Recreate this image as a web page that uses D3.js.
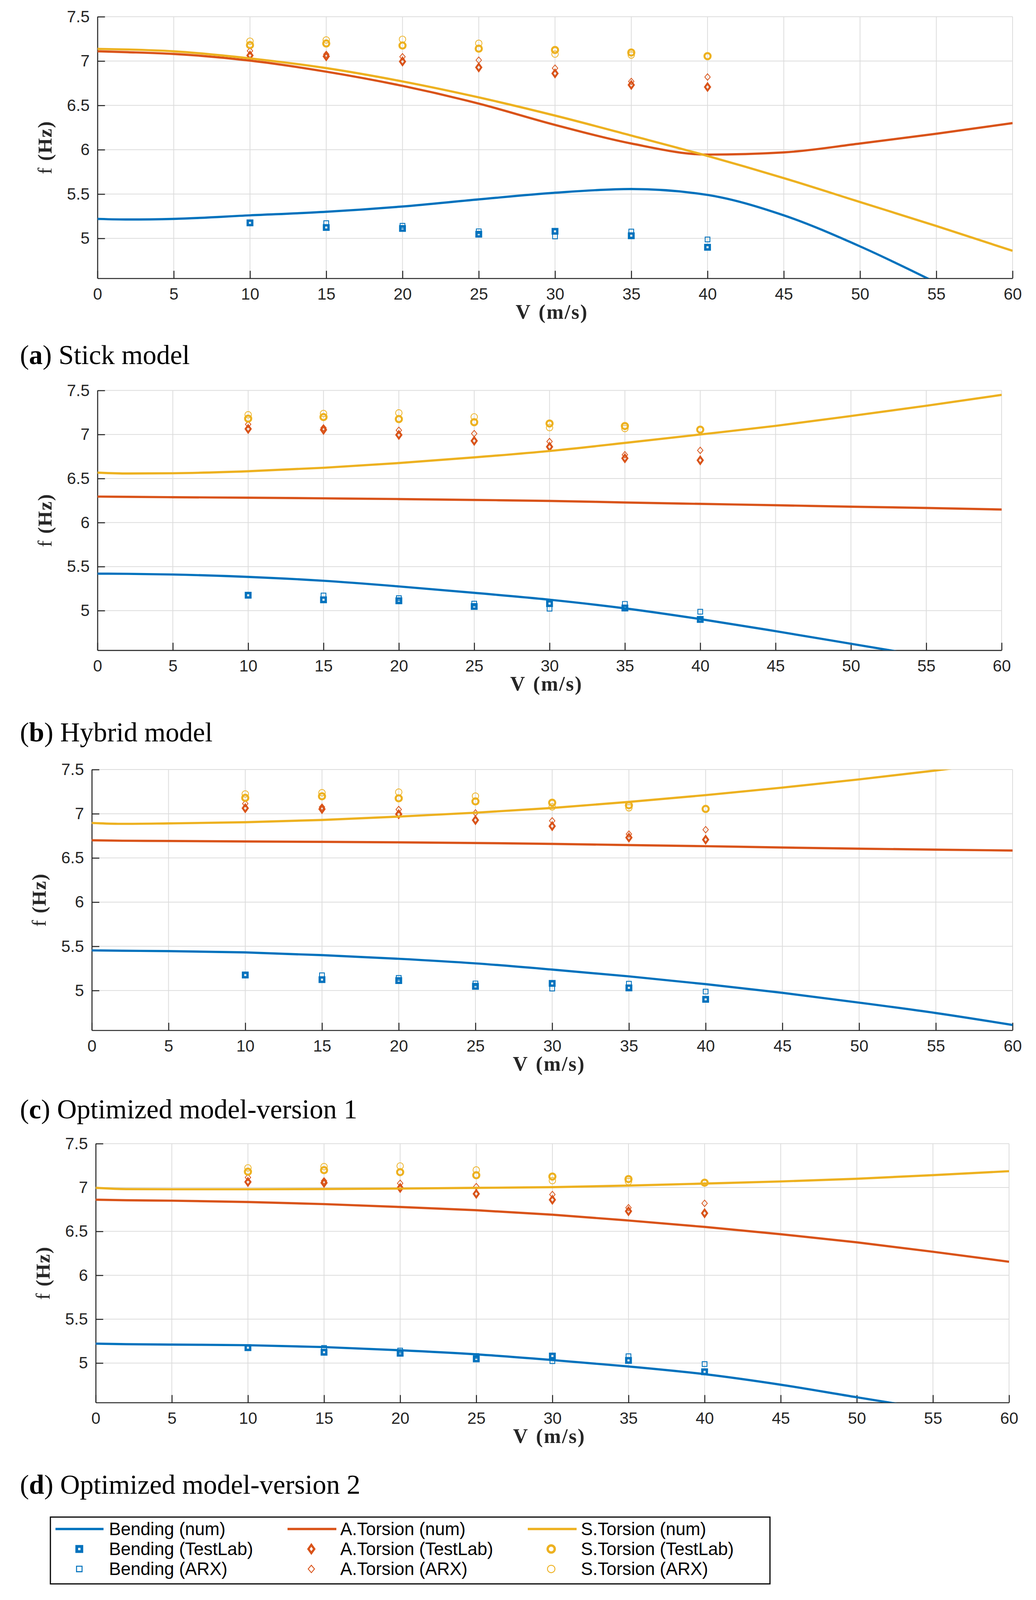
<!DOCTYPE html>
<html>
<head>
<meta charset="utf-8">
<script src="https://cdn.jsdelivr.net/npm/d3@7"></script>
<style>
html, body { margin: 0; padding: 0; background: #fff; overflow: hidden; }
svg { display: block; }
</style>
</head>
<body>
<script>
// speed grid used for the numerical curves (m/s)
var speedGrid = [0, 2, 5, 10, 15, 20, 25, 30, 35, 40, 45, 50, 55, 60];

// (a) stick model
var stickBending  = [5.22, 5.213, 5.22, 5.26, 5.30, 5.36, 5.44, 5.515, 5.557, 5.49, 5.26, 4.91, 4.50, null];
var stickATorsion = [7.11, 7.10, 7.08, 7.005, 6.88, 6.72, 6.52, 6.28, 6.07, 5.945, 5.97, 6.07, 6.18, 6.30];
var stickSTorsion = [7.137, 7.13, 7.11, 7.03, 6.92, 6.77, 6.59, 6.385, 6.16, 5.93, 5.68, 5.41, 5.14, 4.86];

// (b) hybrid model
var hybridBending  = [5.42, 5.418, 5.41, 5.383, 5.339, 5.275, 5.202, 5.124, 5.026, 4.904, 4.767, 4.624, 4.48, null];
var hybridATorsion = [6.295, 6.292, 6.288, 6.282, 6.275, 6.267, 6.257, 6.246, 6.228, 6.212, 6.197, 6.18, 6.166, 6.148];
var hybridSTorsion = [6.567, 6.557, 6.56, 6.583, 6.622, 6.676, 6.74, 6.813, 6.904, 7.0, 7.098, 7.21, 7.326, 7.45];

// (c) optimized model v1
var opt1Bending  = [5.454, 5.45, 5.446, 5.431, 5.40, 5.359, 5.307, 5.237, 5.16, 5.072, 4.974, 4.863, 4.745, 4.61];
var opt1ATorsion = [6.70, 6.695, 6.692, 6.687, 6.682, 6.677, 6.669, 6.659, 6.646, 6.633, 6.618, 6.605, 6.594, 6.584];
var opt1STorsion = [6.896, 6.886, 6.891, 6.904, 6.93, 6.968, 7.012, 7.066, 7.134, 7.211, 7.296, 7.389, 7.49, 7.60];

// (d) optimized model v2
var opt2Bending  = [5.221, 5.215, 5.21, 5.203, 5.182, 5.146, 5.099, 5.034, 4.961, 4.873, 4.753, 4.61, 4.47, null];
var opt2ATorsion = [6.861, 6.855, 6.85, 6.835, 6.811, 6.778, 6.741, 6.69, 6.624, 6.551, 6.468, 6.375, 6.268, 6.154];
var opt2STorsion = [6.996, 6.982, 6.98, 6.98, 6.983, 6.988, 6.996, 7.004, 7.022, 7.045, 7.069, 7.10, 7.141, 7.186];

// measured frequencies (same in every panel)
var testSpeeds       = [10, 15, 20, 25, 30, 35, 40];
var bendingTestLab   = [5.175, 5.123, 5.112, 5.047, 5.08, 5.03, 4.90];
var bendingARX       = [5.18, 5.172, 5.142, 5.08, 5.022, 5.077, 4.988];
var aTorsionTestLab  = [7.063, 7.053, 6.995, 6.928, 6.86, 6.73, 6.707];
var aTorsionARX      = [7.115, 7.075, 7.048, 7.01, 6.92, 6.77, 6.82];
var sTorsionTestLab  = [7.18, 7.198, 7.175, 7.14, 7.125, 7.096, 7.055];
var sTorsionARX      = [7.224, 7.238, 7.245, 7.2, 7.078, 7.068, 7.055];

var xTicks = [0, 5, 10, 15, 20, 25, 30, 35, 40, 45, 50, 55, 60];
var yTicks = [5, 5.5, 6, 6.5, 7, 7.5];
var captionLetters = ["a", "b", "c", "d"];
var captionTexts = [" Stick model", " Hybrid model", " Optimized model-version 1", " Optimized model-version 2"];
var modeNames = ["Bending", "A.Torsion", "S.Torsion"];

var panels = [
	[stickBending, stickATorsion, stickSTorsion],
	[hybridBending, hybridATorsion, hybridSTorsion],
	[opt1Bending, opt1ATorsion, opt1STorsion],
	[opt2Bending, opt2ATorsion, opt2STorsion]
];
var measured = [
	[bendingTestLab, bendingARX],
	[aTorsionTestLab, aTorsionARX],
	[sTorsionTestLab, sTorsionARX]
];

// layout, in pixels of the 2652x5364 page
var layout = [
	{left: 249.5, right: 2592, top: 56,   bottom: 933,  caption: 1220},
	{left: 249.5, right: 2564, top: 1309, bottom: 2180, caption: 2485},
	{left: 235,   right: 2592, top: 2580, bottom: 3454, caption: 3749},
	{left: 245,   right: 2583, top: 3834, bottom: 4702, caption: 5008}
];
var colors = ["#0072BD", "#D95319", "#EDB120"];
var axisColor = "#262626";
var gridColor = "#dcdcdc";
var tickFont = "'Liberation Sans', Arial, sans-serif";
var serif = "'Liberation Serif', 'Times New Roman', serif";

// the page is laid out for 5364 px of height; if the window is shorter,
// vertical positions follow the window and text/marks shrink a little
var pageH = window.innerHeight || 5364;
var sy = pageH / 5364;
var k = Math.sqrt(sy);
function Y(v) { return v * sy; }
function px(v) { return (v * k) + "px"; }

var diamond = function(w, h) {
	return { draw: function(ctx) {
		ctx.moveTo(0, -h); ctx.lineTo(w, 0); ctx.lineTo(0, h); ctx.lineTo(-w, 0); ctx.closePath();
	}};
};
// marker styles: [testlab, arx] per mode
var markerTypes = [
	[{type: d3.symbolSquare, size: 169, sw: 7}, {type: d3.symbolSquare, size: 196, sw: 2.5}],
	[{type: diamond(7.5, 10.5), size: 1, sw: 5.5}, {type: diamond(8, 9.5), size: 1, sw: 2.2}],
	[{type: d3.symbolCircle, size: 254, sw: 6}, {type: d3.symbolCircle, size: 284, sw: 2.2}]
];

var svg = d3.select("body").append("svg")
	.attr("width", 2652)
	.attr("height", pageH);

panels.forEach(function(series, i) {
	var L = layout[i];
	var top = Y(L.top), bottom = Y(L.bottom);
	var x = d3.scaleLinear().domain([0, 60]).range([L.left, L.right]);
	var y = d3.scaleLinear().domain([4.55, 7.5]).range([bottom, top]);
	var g = svg.append("g");

	// grid
	g.append("g").selectAll("line").data(xTicks).enter().append("line")
		.attr("x1", function(d) { return x(d); }).attr("x2", function(d) { return x(d); })
		.attr("y1", top).attr("y2", bottom)
		.attr("stroke", gridColor).attr("stroke-width", 2);
	g.append("g").selectAll("line").data(yTicks).enter().append("line")
		.attr("x1", L.left).attr("x2", L.right)
		.attr("y1", function(d) { return y(d); }).attr("y2", function(d) { return y(d); })
		.attr("stroke", gridColor).attr("stroke-width", 2);

	// axes, ticks pointing inwards
	var tickFs = 48 * k;
	var xAxis = g.append("g")
		.attr("transform", "translate(0," + bottom + ")")
		.call(d3.axisBottom(x).tickValues(xTicks).tickSizeInner(-22 * k).tickSizeOuter(0)
			.tickPadding(52 * sy - 0.36 * tickFs));
	var yAxis = g.append("g")
		.attr("transform", "translate(" + L.left + ",0)")
		.call(d3.axisLeft(y).tickValues(yTicks).tickSizeInner(-22 * k).tickSizeOuter(0)
			.tickPadding(20).tickFormat(d3.format("")));
	[xAxis, yAxis].forEach(function(a) {
		a.select(".domain").attr("stroke", axisColor).attr("stroke-width", 2.6);
		a.selectAll(".tick line").attr("stroke", axisColor).attr("stroke-width", 2.6);
		a.selectAll(".tick text").attr("fill", axisColor)
			.style("font-family", tickFont).style("font-size", tickFs + "px");
	});

	// clip
	var clipId = "clip" + i;
	svg.append("clipPath").attr("id", clipId).append("rect")
		.attr("x", L.left).attr("y", top)
		.attr("width", L.right - L.left).attr("height", bottom - top);

	var line = d3.line()
		.defined(function(d) { return d != null; })
		.x(function(d, j) { return x(speedGrid[j]); })
		.y(function(d) { return y(d); })
		.curve(d3.curveMonotoneX);

	var plot = g.append("g").attr("clip-path", "url(#" + clipId + ")");
	series.forEach(function(vals, m) {
		plot.append("path")
			.attr("d", line(vals))
			.attr("fill", "none")
			.attr("stroke", colors[m])
			.attr("stroke-width", 6.5 * k);
		measured[m].forEach(function(vals2, s) {
			var mt = markerTypes[m][s];
			plot.append("g").selectAll("path").data(vals2).enter().append("path")
				.attr("transform", function(d, j) {
					return "translate(" + x(testSpeeds[j]) + "," + y(d) + ") scale(" + k + ")";
				})
				.attr("d", d3.symbol().type(mt.type).size(mt.size))
				.attr("fill", "none")
				.attr("stroke", colors[m])
				.attr("stroke-width", mt.sw);
		});
	});

	// axis labels
	var xl = g.append("text")
		.attr("x", (L.left + L.right) / 2 - 8)
		.attr("y", Y(L.bottom + 135))
		.attr("text-anchor", "middle")
		.style("font-family", serif).style("font-size", px(60)).style("font-weight", "bold")
		.attr("fill", axisColor);
	xl.append("tspan").text("V");
	xl.append("tspan").attr("dx", 24 * k).style("letter-spacing", px(3)).text("(m/s)");

	var yl = g.append("text")
		.attr("transform", "translate(" + (L.left - 118) + "," + ((top + bottom) / 2) + ") rotate(-90)")
		.attr("text-anchor", "middle")
		.style("font-family", serif).style("font-size", px(58))
		.attr("fill", axisColor);
	yl.append("tspan").text("f");
	yl.append("tspan").attr("dx", 20 * k).style("font-weight", "bold").style("letter-spacing", px(2)).text("(Hz)");

	// caption
	var cap = svg.append("text")
		.attr("x", 51).attr("y", Y(L.caption))
		.style("font-family", serif).style("font-size", px(80))
		.attr("fill", "#000");
	cap.append("tspan").text("(");
	cap.append("tspan").style("font-weight", "bold").text(captionLetters[i]);
	cap.append("tspan").text(")");
	cap.append("tspan").text(captionTexts[i]);
});

// legend
var legendBox = {left: 129, top: 5086, right: 1971, bottom: 5310};
var legendCols = [{line: [142, 265], mark: 203, text: 279}, {line: [736, 861], mark: 797, text: 871}, {line: [1351, 1476], mark: 1411, text: 1487}];
var legendRows = [5126, 5193, 5260];
var legendSuffix = [" (num)", " (TestLab)", " (ARX)"];

var lg = svg.append("g");
lg.append("rect")
	.attr("x", legendBox.left).attr("y", Y(legendBox.top))
	.attr("width", legendBox.right - legendBox.left).attr("height", Y(legendBox.bottom) - Y(legendBox.top))
	.attr("fill", "#fff").attr("stroke", "#000").attr("stroke-width", 3);

modeNames.forEach(function(name, m) {
	var c = legendCols[m];
	lg.append("line")
		.attr("x1", c.line[0]).attr("x2", c.line[1])
		.attr("y1", Y(legendRows[0])).attr("y2", Y(legendRows[0]))
		.attr("stroke", colors[m]).attr("stroke-width", 7 * k);
	[0, 1].forEach(function(s) {
		var mt = markerTypes[m][s];
		lg.append("path")
			.attr("transform", "translate(" + c.mark + "," + Y(legendRows[s + 1]) + ") scale(" + (1.15 * k) + ")")
			.attr("d", d3.symbol().type(mt.type).size(mt.size))
			.attr("fill", "none")
			.attr("stroke", colors[m])
			.attr("stroke-width", mt.sw);
	});
	legendSuffix.forEach(function(suf, r) {
		lg.append("text")
			.attr("x", c.text).attr("y", Y(legendRows[r]) + 0.35 * 52 * k)
			.style("font-family", tickFont).style("font-size", px(52))
			.attr("fill", "#000")
			.text(name + suf);
	});
});
</script>
</body>
</html>
